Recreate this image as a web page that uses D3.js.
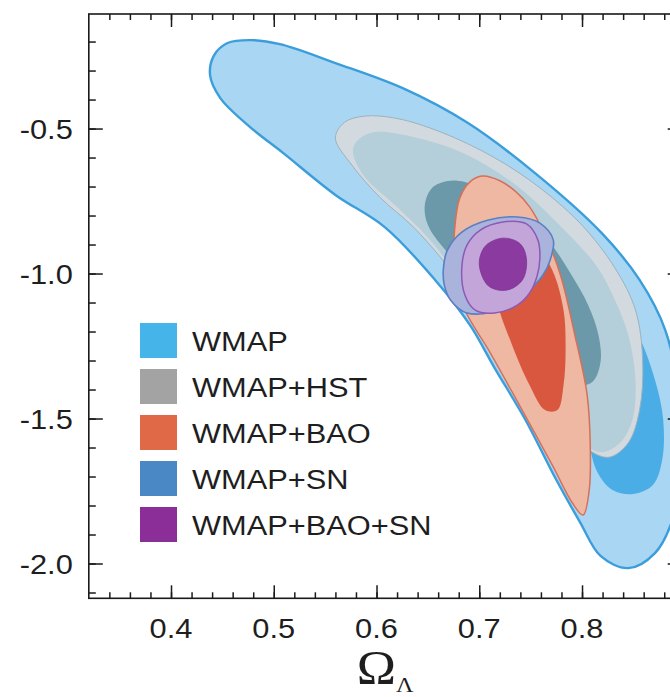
<!DOCTYPE html>
<html><head><meta charset="utf-8">
<script src="https://cdn.jsdelivr.net/npm/d3@7"></script>
<style>body{margin:0;background:#fff;} svg{display:block;}</style>
</head><body><svg id="c" width="670" height="697"></svg>
<script>
// ---- data (Omega_Lambda, w) ----
const xTickValues = [0.4, 0.5, 0.6, 0.7, 0.8];
const xTickLabels = ["0.4", "0.5", "0.6", "0.7", "0.8"];
const yTickValues = [-0.5, -1.0, -1.5, -2.0];
const yTickLabels = ["-0.5", "-1.0", "-1.5", "-2.0"];
const legendLabels = ["WMAP", "WMAP+HST", "WMAP+BAO", "WMAP+SN", "WMAP+BAO+SN"];
const legendColors = ["#45b4e8", "#a3a3a3", "#e06a48", "#4a87c5", "#8b2e97"];

const wmap95 = [[0.438,-0.316],[0.442,-0.247],[0.455,-0.205],[0.477,-0.195],[0.506,-0.209],[0.560,-0.274],[0.625,-0.360],[0.689,-0.481],[0.754,-0.653],[0.819,-0.860],[0.856,-1.022],[0.881,-1.195],[0.895,-1.436],[0.897,-1.678],[0.888,-1.850],[0.871,-1.964],[0.845,-2.016],[0.818,-1.974],[0.798,-1.857],[0.774,-1.705],[0.745,-1.505],[0.715,-1.326],[0.691,-1.178],[0.657,-1.022],[0.608,-0.840],[0.560,-0.729],[0.509,-0.584],[0.477,-0.495],[0.448,-0.395]];
const wmap68 = [[0.779,-0.919],[0.818,-1.040],[0.852,-1.195],[0.871,-1.367],[0.879,-1.505],[0.878,-1.643],[0.869,-1.729],[0.850,-1.760],[0.830,-1.747],[0.815,-1.685],[0.806,-1.574],[0.793,-1.367],[0.774,-1.126],[0.764,-0.988]];
const hst95 = [[0.560,-0.533],[0.569,-0.478],[0.589,-0.457],[0.618,-0.464],[0.652,-0.498],[0.701,-0.574],[0.749,-0.678],[0.798,-0.826],[0.832,-0.981],[0.852,-1.126],[0.859,-1.298],[0.856,-1.471],[0.845,-1.584],[0.827,-1.633],[0.810,-1.616],[0.788,-1.540],[0.759,-1.402],[0.725,-1.229],[0.691,-1.074],[0.662,-0.943],[0.636,-0.840],[0.603,-0.736],[0.576,-0.626]];
const hst68 = [[0.577,-0.574],[0.584,-0.533],[0.599,-0.512],[0.636,-0.529],[0.684,-0.584],[0.733,-0.688],[0.782,-0.847],[0.815,-0.978],[0.832,-1.091],[0.845,-1.212],[0.852,-1.367],[0.849,-1.505],[0.837,-1.584],[0.820,-1.616],[0.803,-1.591],[0.779,-1.488],[0.749,-1.350],[0.720,-1.195],[0.686,-1.040],[0.652,-0.884],[0.620,-0.771],[0.587,-0.660]];
const sn95 = [[0.647,-0.764],[0.654,-0.705],[0.669,-0.681],[0.686,-0.684],[0.710,-0.719],[0.740,-0.788],[0.767,-0.884],[0.788,-0.995],[0.806,-1.109],[0.816,-1.212],[0.818,-1.305],[0.810,-1.374],[0.793,-1.385],[0.774,-1.333],[0.740,-1.195],[0.701,-1.040],[0.667,-0.919],[0.650,-0.833]];
const bao95 = [[0.703,-0.664],[0.720,-0.680],[0.735,-0.716],[0.749,-0.770],[0.764,-0.867],[0.779,-1.005],[0.793,-1.212],[0.805,-1.419],[0.808,-1.591],[0.807,-1.747],[0.801,-1.833],[0.790,-1.788],[0.772,-1.667],[0.740,-1.460],[0.710,-1.269],[0.686,-1.126],[0.676,-1.005],[0.676,-0.850],[0.681,-0.740],[0.691,-0.684]];
const bao68 = [[0.730,-0.884],[0.754,-0.902],[0.771,-0.988],[0.782,-1.126],[0.784,-1.264],[0.782,-1.385],[0.776,-1.471],[0.764,-1.471],[0.749,-1.385],[0.732,-1.247],[0.717,-1.091],[0.715,-0.971]];
const sn68 = [[0.665,-0.988],[0.669,-0.919],[0.683,-0.857],[0.708,-0.816],[0.737,-0.805],[0.759,-0.826],[0.772,-0.884],[0.769,-0.953],[0.762,-1.005],[0.745,-1.069],[0.720,-1.126],[0.688,-1.136],[0.672,-1.091],[0.666,-1.040]];
const baoSn95 = [[0.683,-0.978],[0.688,-0.902],[0.701,-0.850],[0.723,-0.822],[0.746,-0.829],[0.757,-0.884],[0.759,-0.947],[0.756,-1.012],[0.749,-1.067],[0.737,-1.109],[0.715,-1.136],[0.696,-1.126],[0.686,-1.074]];
const baoSn68 = [[0.700,-0.967],[0.706,-0.905],[0.723,-0.878],[0.740,-0.898],[0.746,-0.953],[0.742,-1.022],[0.727,-1.057],[0.709,-1.043]];

// ---- layout ----
const svg = d3.select("#c");
const x = d3.scaleLinear().domain([0.32, 0.897]).range([88.8, 681.7]);
const y = d3.scaleLinear().domain([-0.105, -2.12]).range([14, 598.3]);
const [x0, x1] = x.range(), [yTop, yBot] = [y(-0.105), y(-2.12)];

svg.append("defs").append("clipPath").attr("id", "plot")
  .append("rect").attr("x", x0).attr("y", yTop).attr("width", x1 - x0).attr("height", yBot - yTop);

const layers = [
  {d: wmap95, fill: "#a8d6f3", stroke: "#3b9edb", sw: 2.4},
  {d: wmap68, fill: "#4badE6", stroke: "none", sw: 0},
  {d: hst95, fill: "#d3dadf", stroke: "#9cb2be", sw: 1},
  {d: hst68, fill: "#b4cfda", stroke: "none", sw: 0},
  {d: sn95, fill: "#6b99a9", stroke: "none", sw: 0},
  {d: bao95, fill: "#efb8a3", stroke: "#d5705a", sw: 1.5},
  {d: bao68, fill: "#d9573f", stroke: "none", sw: 0},
  {d: sn68, fill: "#aab3dc", stroke: "#5a7fc2", sw: 1.6},
  {d: baoSn95, fill: "#c4a5da", stroke: "#8b5ab4", sw: 1.5},
  {d: baoSn68, fill: "#8b3a9f", stroke: "#7d3592", sw: 0.8}
];
const line = d3.line().x(d => x(d[0])).y(d => y(d[1])).curve(d3.curveCatmullRomClosed.alpha(0.5));
const g = svg.append("g").attr("clip-path", "url(#plot)");
g.selectAll("path").data(layers).join("path")
  .attr("d", l => line(l.d)).attr("fill", l => l.fill)
  .attr("stroke", l => l.stroke).attr("stroke-width", l => l.sw).attr("stroke-linejoin", "round");

// ---- axes ----
const xMinor = d3.range(16, 45).map(i => +(i * 0.02).toFixed(2)).filter(v => v > 0.32 && v < 0.897);
const yMinor = d3.range(2, 22).map(i => +(-i * 0.1).toFixed(1));
function styleAxis(sel) {
  sel.select(".domain").remove();
  sel.selectAll("line").attr("stroke", "#1a1a1a").attr("stroke-width", 1.5);
}
svg.append("g").attr("transform", `translate(0,${yBot})`).call(d3.axisBottom(x).tickValues(xMinor).tickSize(-6).tickFormat("")).call(styleAxis);
svg.append("g").attr("transform", `translate(0,${yBot})`).call(d3.axisBottom(x).tickValues(xTickValues).tickSize(-13).tickFormat("")).call(styleAxis);
svg.append("g").attr("transform", `translate(0,${yTop})`).call(d3.axisTop(x).tickValues(xMinor).tickSize(-6).tickFormat("")).call(styleAxis);
svg.append("g").attr("transform", `translate(0,${yTop})`).call(d3.axisTop(x).tickValues(xTickValues).tickSize(-13).tickFormat("")).call(styleAxis);
svg.append("g").attr("transform", `translate(${x0},0)`).call(d3.axisLeft(y).tickValues(yMinor).tickSize(-7).tickFormat("")).call(styleAxis);
svg.append("g").attr("transform", `translate(${x0},0)`).call(d3.axisLeft(y).tickValues(yTickValues).tickSize(-14).tickFormat("")).call(styleAxis);
svg.append("g").attr("transform", `translate(${x1},0)`).call(d3.axisRight(y).tickValues(yMinor).tickSize(-7).tickFormat("")).call(styleAxis);
svg.append("g").attr("transform", `translate(${x1},0)`).call(d3.axisRight(y).tickValues(yTickValues).tickSize(-14).tickFormat("")).call(styleAxis);

svg.append("rect").attr("x", x0).attr("y", yTop).attr("width", x1 - x0).attr("height", yBot - yTop)
  .attr("fill", "none").attr("stroke", "#1a1a1a").attr("stroke-width", 1.6);

const font = "'Liberation Sans', Arial, Helvetica, sans-serif";
svg.selectAll(".xl").data(xTickValues).join("text").attr("class", "xl")
  .attr("transform", v => `translate(${x(v)},${yBot + 40}) scale(1.1,1)`)
  .attr("text-anchor", "middle").attr("font-family", font).attr("font-size", 28).attr("fill", "#1e1e1e")
  .text((v, i) => xTickLabels[i]);
svg.selectAll(".yl").data(yTickValues).join("text").attr("class", "yl")
  .attr("transform", v => `translate(${x0 - 16},${y(v) + 10}) scale(1.1,1)`)
  .attr("text-anchor", "end").attr("font-family", font).attr("font-size", 28).attr("fill", "#1e1e1e")
  .text((v, i) => yTickLabels[i]);

// axis title
const t = svg.append("text").attr("transform", `translate(${(x0 + x1) / 2},684) scale(1.1,1)`)
  .attr("text-anchor", "middle").attr("font-family", "'Liberation Serif', 'Times New Roman', serif").attr("fill", "#1e1e1e");
t.append("tspan").attr("font-size", 48).text("Ω");
t.append("tspan").attr("font-size", 22).attr("dy", 8).text("Λ");

// legend
const lg = svg.append("g");
legendLabels.forEach((lab, i) => {
  const top = 323 + i * 46;
  lg.append("rect").attr("x", 140).attr("y", top).attr("width", 37).attr("height", 35).attr("fill", legendColors[i]);
  lg.append("text").attr("transform", `translate(192,${top + 28}) scale(1.1,1)`)
    .attr("font-family", font).attr("font-size", 28).attr("fill", "#1e1e1e").text(lab);
});
</script></body></html>
